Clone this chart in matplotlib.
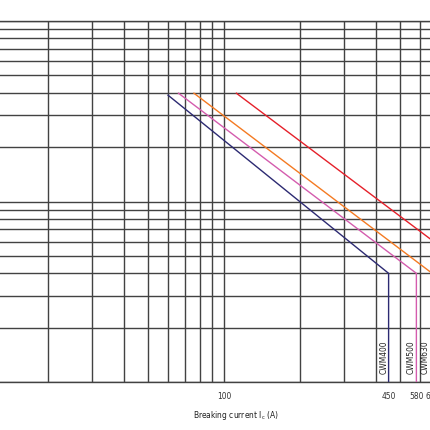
import numpy as np
import matplotlib
matplotlib.use("Agg")
import matplotlib.pyplot as plt
from matplotlib.ticker import LogLocator, FixedLocator, NullFormatter
from matplotlib.transforms import offset_copy

plt.rcParams['font.family'] = ['DejaVu Sans']
plt.rcParams['font.stretch'] = 'condensed'

# curves: breaking current (A) vs time, each ends in a vertical drop at Ic
names = ["CWM400", "CWM500", "CWM630", "CWM800"]
colors = ["#2c2a72", "#d45cae", "#f47a22", "#e5202a"]
curve_x = [
    [60, 450, 450],
    [66, 580, 580],
    [76, 670, 670],
    [112, 1000, 1000],
]
curve_y = [
    [38.8, 4.0, 1.0],
    [39.8, 4.0, 1.0],
    [39.8, 4.0, 1.0],
    [39.8, 4.0, 1.0],
]
tick_vals = [100, 450, 580, 670]
tick_labels = ["100", "450", "580", "670"]

fig = plt.figure(figsize=(4.3, 4.3), dpi=100)
# axes runs past the right edge of the picture (cropped chart)
ax = fig.add_axes([0, 48 / 430, 1.06, 361 / 430])
ax.set_xscale("log")
ax.set_yscale("log")
ax.set_xlim(12.92, 10 ** (2 + (1.06 * 430 - 224) / 252))
ax.set_ylim(1, 100)

grid_col = "#424242"
for axis in (ax.xaxis, ax.yaxis):
    axis.set_minor_locator(LogLocator(base=10, subs=np.arange(1, 10), numticks=20))
    axis.set_minor_formatter(NullFormatter())
    axis.remove_overlapping_locs = False
ax.xaxis.set_major_locator(FixedLocator(tick_vals))
ax.set_xticklabels(tick_labels)
ax.set_yticks([])
ax.yaxis.set_minor_locator(LogLocator(base=10, subs=np.arange(1, 10), numticks=20))
ax.grid(which="minor", color=grid_col, linewidth=1.0)
ax.grid(which="major", visible=False)
ax.tick_params(which="both", length=0)
ax.tick_params(axis="x", which="major", pad=7, labelsize=6, labelcolor="#333333")

for s in ("left", "right"):
    ax.spines[s].set_visible(False)
for s in ("top", "bottom"):
    ax.spines[s].set_color(grid_col)
    ax.spines[s].set_linewidth(1.0)

for name, c, xs, ys in zip(names, colors, curve_x, curve_y):
    ax.plot(xs, ys, color=c, linewidth=1.0, zorder=3)
    off = -3.5 if xs[1] < 600 else -5
    tr = offset_copy(ax.transData, fig=fig, x=off, y=0, units="points")
    ax.text(xs[1], 1.37, name, rotation=90, ha="center", va="center",
            fontsize=6, color="#222222", transform=tr)

fig.text(236 / 430, 1 - 415 / 430, r"Breaking current I$_\mathregular{c}$ (A)",
         ha="center", va="center", fontsize=6, color="#222222")

fig.savefig("out.png", dpi=100)
